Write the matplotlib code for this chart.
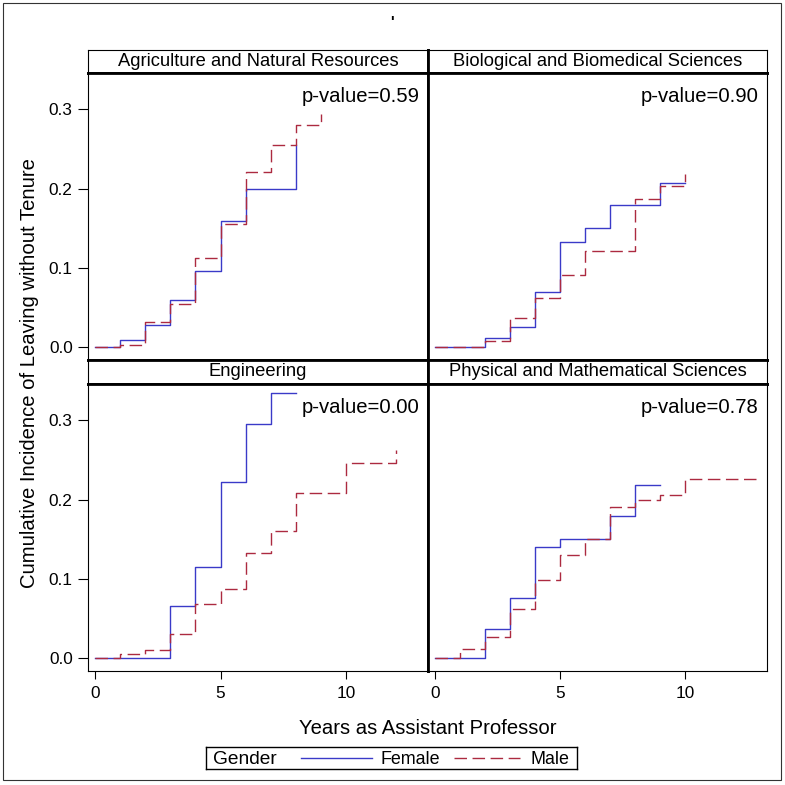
import numpy as np
import matplotlib.pyplot as plt
from matplotlib.patches import Rectangle
from matplotlib.lines import Line2D

plt.rcParams['font.family'] = ['Liberation Sans', 'DejaVu Sans']

W, H = 785, 785

# step curves: value holds from t[i] up to t[i+1]
agr_f_t = [0, 1, 2, 3, 4, 5, 6, 8]
agr_f_v = [0, 0.009, 0.028, 0.060, 0.096, 0.159, 0.200, 0.255]
agr_m_t = [0, 1, 2, 3, 4, 5, 6, 7, 8, 9]
agr_m_v = [0, 0.003, 0.032, 0.055, 0.113, 0.155, 0.221, 0.255, 0.281, 0.294]

bio_f_t = [0, 2, 3, 4, 5, 6, 7, 9, 10]
bio_f_v = [0, 0.012, 0.026, 0.070, 0.133, 0.151, 0.179, 0.207, 0.207]
bio_m_t = [0, 2, 3, 4, 5, 6, 8, 9, 10]
bio_m_v = [0, 0.0075, 0.037, 0.062, 0.091, 0.122, 0.187, 0.204, 0.219]

eng_f_t = [0, 3, 4, 5, 6, 7, 8]
eng_f_v = [0, 0.066, 0.115, 0.222, 0.295, 0.335, 0.335]
eng_m_t = [0, 1, 2, 3, 4, 5, 6, 7, 8, 10, 12]
eng_m_v = [0, 0.005, 0.0105, 0.031, 0.068, 0.088, 0.1325, 0.161, 0.208, 0.246, 0.263]

phy_f_t = [0, 2, 3, 4, 5, 7, 8, 9]
phy_f_v = [0, 0.037, 0.076, 0.140, 0.151, 0.180, 0.219, 0.219]
phy_m_t = [0, 1, 2, 3, 4, 5, 6, 7, 8, 9, 10, 13]
phy_m_v = [0, 0.012, 0.027, 0.062, 0.0985, 0.130, 0.150, 0.191, 0.200, 0.2055, 0.226, 0.226]

fields = ['Agriculture and Natural Resources', 'Biological and Biomedical Sciences',
          'Engineering', 'Physical and Mathematical Sciences']
pvalues = ['0.59', '0.90', '0.00', '0.78']
female = [(agr_f_t, agr_f_v), (bio_f_t, bio_f_v), (eng_f_t, eng_f_v), (phy_f_t, phy_f_v)]
male = [(agr_m_t, agr_m_v), (bio_m_t, bio_m_v), (eng_m_t, eng_m_v), (phy_m_t, phy_m_v)]

xticks = [0, 5, 10]
yticks = [0.0, 0.1, 0.2, 0.3]

blue = '#3a3ac8'
red = '#ac2a40'
thin = 0.8
thick = 2.0


def box(x0, y0, x1, y1):
    return [x0 / W, 1 - y1 / H, (x1 - x0) / W, (y1 - y0) / H]


fig = plt.figure(figsize=(W / 100, H / 100), dpi=100)

cols = [(88, 428), (428, 767)]
rows = [((50, 73), (73, 360)), ((360, 384), (384, 671))]

for k in range(4):
    r, c = divmod(k, 2)
    (sy0, sy1), (py0, py1) = rows[r]
    x0, x1 = cols[c]

    # strip header
    sax = fig.add_axes(box(x0, sy0, x1, sy1))
    sax.set_xticks([])
    sax.set_yticks([])
    sax.text(0.5, 0.5, fields[k], ha='center', va='center', fontsize=13.2,
             transform=sax.transAxes)
    sax.spines['top'].set_linewidth(thin if r == 0 else thick)
    sax.spines['bottom'].set_linewidth(thick)
    sax.spines['left'].set_linewidth(thin if c == 0 else thick)
    sax.spines['right'].set_linewidth(thick if c == 0 else thin)

    ax = fig.add_axes(box(x0, py0, x1, py1))
    ft, fv = female[k]
    mt, mv = male[k]
    ax.step(ft, fv, where='post', color=blue, lw=1.0)
    ax.step(mt, mv, where='post', color=red, lw=1.0, dashes=(9, 4))
    ax.set_xlim(-0.29, 13.28)
    ax.set_ylim(-0.016, 0.346)
    ax.text(0.975, 0.917, 'p-value=' + pvalues[k], ha='right', va='center',
            fontsize=14.6, transform=ax.transAxes)

    ax.spines['top'].set_linewidth(thick)
    ax.spines['bottom'].set_linewidth(thick if r == 0 else thin)
    ax.spines['left'].set_linewidth(thin if c == 0 else thick)
    ax.spines['right'].set_linewidth(thick if c == 0 else thin)

    if r == 1:
        ax.set_xticks(xticks)
        ax.set_xticklabels([str(v) for v in xticks])
        ax.tick_params(axis='x', length=6, width=0.8, pad=5, labelsize=12.4)
    else:
        ax.set_xticks([])
    if c == 0:
        ax.set_yticks(yticks)
        ax.set_yticklabels(['%.1f' % v for v in yticks])
        ax.tick_params(axis='y', length=7, width=0.8, pad=4, labelsize=12.4)
    else:
        ax.set_yticks([])

fig.text(427.5 / W, 1 - 729 / H, 'Years as Assistant Professor', ha='center',
         va='center', fontsize=14.6)
fig.text(30 / W, 1 - 373 / H, 'Cumulative Incidence of Leaving without Tenure',
         ha='center', va='center', rotation=90, fontsize=14.6)
fig.text(392 / W, 1 - 22 / H, "'", ha='center', va='center', fontsize=11,
         fontweight='bold')

# legend
lax = fig.add_axes(box(206, 747, 577, 769))
lax.set_xlim(206, 577)
lax.set_ylim(769, 747)
lax.set_xticks([])
lax.set_yticks([])
for s in lax.spines.values():
    s.set_linewidth(1.0)
lax.text(213, 759, 'Gender', ha='left', va='center', fontsize=13.8)
lax.add_line(Line2D([301, 372], [758, 758], color=blue, lw=1.0))
lax.text(381, 759, 'Female', ha='left', va='center', fontsize=12.9)
lax.add_line(Line2D([454, 520], [758, 758], color=red, lw=1.0, dashes=(9, 4)))
lax.text(531, 759, 'Male', ha='left', va='center', fontsize=12.9)

fig.add_artist(Rectangle((3 / W, 1 - 780 / H), 778 / W, 777 / H, fill=False,
                         edgecolor='#333333', lw=0.8, transform=fig.transFigure))

plt.savefig('out.png', dpi=100)
